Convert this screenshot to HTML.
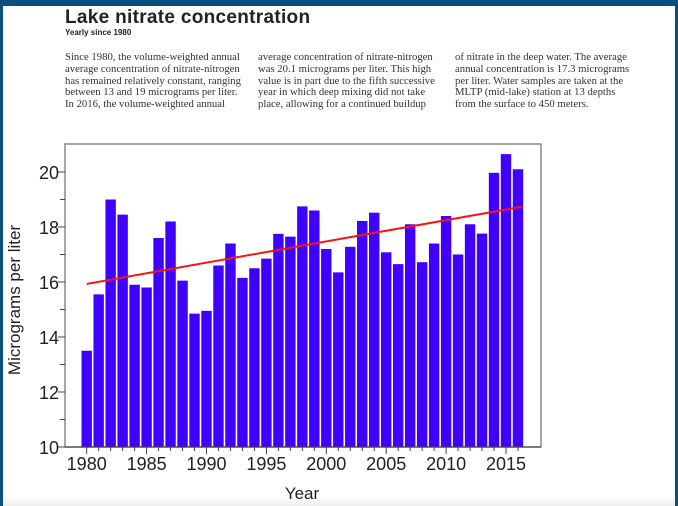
<!DOCTYPE html>
<html><head><meta charset="utf-8"><style>
html,body{margin:0;padding:0;background:#fff;}
body{width:678px;height:506px;position:relative;overflow:hidden;font-family:"Liberation Sans",sans-serif;}
.frame{position:absolute;left:0;top:0;width:678px;height:506px;box-sizing:border-box;border-top:6px solid #0a4f7e;border-left:3px solid #0a4f7e;border-right:3px solid #0a4f7e;}
.bottom{position:absolute;left:3px;right:3px;top:496px;height:10px;background:linear-gradient(#fff,#eee);}
h1{position:absolute;left:65px;top:7px;margin:0;font-size:19px;font-weight:bold;color:#222;letter-spacing:0.3px;}
.sub{position:absolute;left:65px;top:28px;font-size:8px;font-weight:bold;color:#222;}
.col{position:absolute;top:52px;width:195px;font-family:"Liberation Serif",serif;font-size:10.7px;line-height:11.8px;color:#333;white-space:nowrap;}
</style></head><body>
<div class="frame"></div>
<div class="bottom"></div>
<h1>Lake nitrate concentration</h1>
<div class="sub">Yearly since 1980</div>
<div class="col" style="left:65px">Since 1980, the volume-weighted annual<br>average concentration of nitrate-nitrogen<br>has remained relatively constant, ranging<br>between 13 and 19 micrograms per liter.<br>In 2016, the volume-weighted annual</div>
<div class="col" style="left:258px">average concentration of nitrate-nitrogen<br>was 20.1 micrograms per liter. This high<br>value is in part due to the fifth successive<br>year in which deep mixing did not take<br>place, allowing for a continued buildup</div>
<div class="col" style="left:455px">of nitrate in the deep water. The average<br>annual concentration is 17.3 micrograms<br>per liter. Water samples are taken at the<br>MLTP (mid-lake) station at 13 depths<br>from the surface to 450 meters.</div>
<svg id="chart" width="678" height="506" style="position:absolute;left:0;top:0"></svg>
<script>
const years=[1980,1981,1982,1983,1984,1985,1986,1987,1988,1989,1990,1991,1992,1993,1994,1995,1996,1997,1998,1999,2000,2001,2002,2003,2004,2005,2006,2007,2008,2009,2010,2011,2012,2013,2014,2015,2016];
const values=[13.5,15.55,19.0,18.45,15.9,15.8,17.6,18.2,16.05,14.85,14.95,16.6,17.4,16.15,16.5,16.85,17.75,17.65,18.75,18.6,17.2,16.35,17.28,18.22,18.52,17.08,16.65,18.1,16.72,17.4,18.4,17.0,18.1,17.76,19.97,20.65,20.1];
const yTicks=[10,12,14,16,18,20];
const xTicks=[1980,1985,1990,1995,2000,2005,2010,2015];
const trendStart=[1980,15.93];
const trendEnd=[2016,18.74];
const NS="http://www.w3.org/2000/svg";
const svg=document.getElementById('chart');
const L=65,R=541,T=144,B=447;
const x=v=>86.7+(v-1980)*11.98;
const y=v=>B-(v-10)*27.5;
function mk(t,a){const e=document.createElementNS(NS,t);for(const k in a)e.setAttribute(k,a[k]);svg.appendChild(e);return e;}
let e=mk('rect',{x:L,y:T,width:R-L,height:B-T,fill:'none',stroke:'#777','stroke-width':1.3});


years.forEach((yr,i)=>{
 const b=mk('rect',{x:x(yr)-5.2,y:y(values[i]),width:10.4,height:B-y(values[i]),fill:'#4000ff'});
 
 
 const t=mk('line',{x1:x(yr),x2:x(yr),y1:B,y2:B+(yr%5===0?7:4),stroke:'#444','stroke-width':1});
 
 
});
for(let v=10;v<=20;v++){
 const t=mk('line',{x1:L-(v%2===0?7:5),x2:L,y1:y(v),y2:y(v),stroke:'#444','stroke-width':1});
 
 
}
mk('line',{x1:L,x2:R,y1:B,y2:B,stroke:'#444','stroke-width':1.3});
yTicks.forEach(v=>{
 const t=mk('text',{x:L-6,y:y(v)+7,'text-anchor':'end','font-size':18,fill:'#222','font-family':'Liberation Sans, sans-serif'});
 t.textContent=v;
 
 
});
xTicks.forEach(v=>{
 const t=mk('text',{x:x(v),y:B+23,'text-anchor':'middle','font-size':18,fill:'#222','font-family':'Liberation Sans, sans-serif'});
 t.textContent=v;
 
 
});
const tl=mk('line',{x1:x(trendStart[0]),y1:y(trendStart[1]),x2:x(trendEnd[0])+4,y2:y(trendEnd[1]),stroke:'#ff1010','stroke-width':2});


const yl=mk('text',{x:20,y:300,'text-anchor':'middle','font-size':17,fill:'#222',transform:'rotate(-90 20 300)','font-family':'Liberation Sans, sans-serif'});
yl.textContent='Micrograms per liter';


const xl=mk('text',{x:302,y:499,'text-anchor':'middle','font-size':17,fill:'#222','font-family':'Liberation Sans, sans-serif'});
xl.textContent='Year';


</script>
</body></html>
